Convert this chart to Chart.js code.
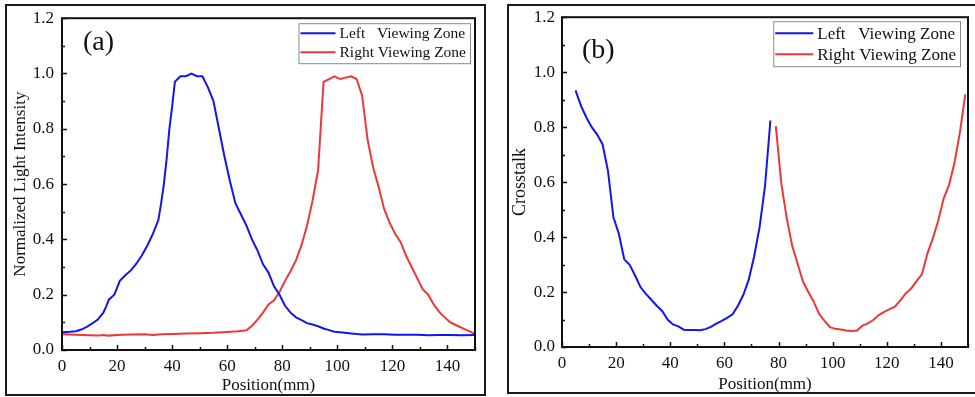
<!DOCTYPE html>
<html>
<head>
<meta charset="utf-8">
<script src="https://cdn.jsdelivr.net/npm/chart.js@4.4.1/dist/chart.umd.min.js"></script>
<style>
  html, body { margin: 0; padding: 0; background: #fff; }
  body { width: 975px; height: 397px; position: relative; overflow: hidden; }
  canvas { position: absolute; top: 0; }
  .frame { position: absolute; box-sizing: border-box; border: 2px solid #1a1a1a; pointer-events: none; }
</style>
</head>
<body>
<canvas id="chartA" width="490" height="397" style="left:0"></canvas>
<canvas id="chartB" width="485" height="397" style="left:490px"></canvas>
<div class="frame" style="left:5px;top:4px;width:481px;height:392px"></div>
<div class="frame" style="left:507px;top:4px;width:473px;height:390px"></div>
<script>
// (a) normalized light intensity
const posLeftA = [0, 3, 5, 7, 9, 11, 13, 15, 16, 17, 19, 21, 23, 25, 27, 29, 31, 33, 35, 36, 37, 38, 39, 40, 41, 43, 45, 47, 49, 51, 53, 55, 57, 59, 61, 63, 65, 67, 69, 71, 73, 75, 77, 79, 81, 83, 85, 87, 89, 91, 93, 95, 97, 99, 101, 105, 109, 113, 117, 121, 125, 129, 133, 137, 141, 145, 150];
const leftA = [0.064, 0.066, 0.068, 0.074, 0.084, 0.096, 0.11, 0.135, 0.156, 0.182, 0.2, 0.25, 0.27, 0.288, 0.312, 0.342, 0.378, 0.42, 0.47, 0.53, 0.6, 0.69, 0.8, 0.88, 0.97, 0.99, 0.99, 1.0, 0.99, 0.99, 0.95, 0.9, 0.8, 0.7, 0.61, 0.53, 0.49, 0.45, 0.4, 0.36, 0.31, 0.28, 0.23, 0.2, 0.16, 0.135, 0.118, 0.108, 0.097, 0.092, 0.086, 0.078, 0.072, 0.066, 0.064, 0.06, 0.056, 0.057, 0.057, 0.055, 0.055, 0.055, 0.053, 0.054, 0.054, 0.053, 0.054];
const posRightA = [0, 5, 10, 13, 15, 17, 20, 25, 30, 33, 36, 40, 45, 50, 55, 60, 64, 67, 69, 71, 73, 75, 77, 79, 81, 83, 85, 87, 89, 91, 93, 95, 97, 99, 101, 103, 105, 107, 109, 111, 113, 115, 117, 119, 121, 123, 125, 127, 129, 131, 133, 135, 137, 139, 141, 144, 147, 150];
const rightA = [0.057, 0.055, 0.053, 0.052, 0.054, 0.052, 0.054, 0.056, 0.057, 0.054, 0.057, 0.058, 0.06, 0.061, 0.062, 0.065, 0.068, 0.071, 0.088, 0.11, 0.135, 0.165, 0.18, 0.21, 0.25, 0.285, 0.325, 0.38, 0.45, 0.54, 0.65, 0.97, 0.98, 0.99, 0.98, 0.985, 0.99, 0.98, 0.92, 0.76, 0.66, 0.59, 0.51, 0.46, 0.42, 0.39, 0.34, 0.3, 0.26, 0.22, 0.2, 0.165, 0.138, 0.118, 0.1, 0.086, 0.072, 0.058];

// (b) crosstalk
const posLeftB = [5, 7, 9, 11, 13, 15, 17, 19, 21, 23, 25, 27, 29, 31, 33, 35, 37, 39, 41, 43, 45, 47, 49, 51, 53, 55, 57, 59, 61, 63, 65, 67, 69, 71, 73, 75, 77];
const leftB = [0.934, 0.878, 0.835, 0.8, 0.773, 0.737, 0.64, 0.472, 0.412, 0.319, 0.299, 0.26, 0.218, 0.193, 0.172, 0.15, 0.131, 0.1, 0.082, 0.075, 0.063, 0.062, 0.062, 0.061, 0.065, 0.073, 0.085, 0.095, 0.106, 0.119, 0.15, 0.19, 0.245, 0.33, 0.436, 0.585, 0.824];
const posRightB = [79, 81, 83, 85, 87, 89, 91, 93, 95, 97, 99, 101, 103, 105, 107, 109, 111, 113, 115, 117, 119, 121, 123, 125, 127, 129, 131, 133, 135, 137, 139, 141, 143, 145, 147, 149];
const rightB = [0.804, 0.597, 0.47, 0.37, 0.305, 0.239, 0.2, 0.165, 0.12, 0.095, 0.072, 0.066, 0.064, 0.06, 0.058, 0.06, 0.078, 0.086, 0.098, 0.116, 0.128, 0.138, 0.147, 0.17, 0.195, 0.213, 0.24, 0.265, 0.34, 0.395, 0.46, 0.54, 0.59, 0.67, 0.78, 0.919];

const seriesNames = ["Left   Viewing Zone", "Right Viewing Zone"];
const seriesColors = ["rgb(20, 20, 240)", "rgb(238, 55, 55)"];
const xTicks = [0, 20, 40, 60, 80, 100, 120, 140];

const serif = "'Liberation Serif', 'Times New Roman', serif";
const toPoints = (xs, ys) => xs.map((v, i) => ({ x: v, y: ys[i] }));

// plot box, inward ticks, panel tag and boxed legend
const decor = {
    id: "decor",
    afterDraw(chart, args, opts) {
        const { ctx, chartArea: a, scales } = chart;
        const x = scales.x, y = scales.y;
        ctx.save();
        ctx.strokeStyle = "#111";
        ctx.lineWidth = 1.5;
        ctx.beginPath();
        for (let v = 0; v <= 150; v += 10) {
            const px = Math.round(x.getPixelForValue(v)) + 0.5;
            const len = v % 20 === 0 ? 5 : 3;
            ctx.moveTo(px, a.bottom);
            ctx.lineTo(px, a.bottom - len);
        }
        for (let k = 0; k <= 12; k++) {
            const py = Math.round(y.getPixelForValue(k / 10)) + 0.5;
            const len = k % 2 === 0 ? 5 : 3;
            ctx.moveTo(a.left, py);
            ctx.lineTo(a.left + len, py);
        }
        ctx.stroke();
        ctx.lineWidth = 2;
        ctx.strokeRect(a.left, a.top, a.right - a.left, a.bottom - a.top);

        // panel tag
        ctx.fillStyle = "#111";
        ctx.font = "28px " + serif;
        ctx.textBaseline = "middle";
        ctx.textAlign = "left";
        ctx.fillText(opts.tag, a.left + opts.tagDx, a.top + opts.tagDy);

        // legend
        ctx.font = opts.legendFont + "px " + serif;
        const lineLen = opts.lineLen;
        const textW = Math.max(...chart.data.datasets.map(d => ctx.measureText(d.label).width));
        const w = 2 + lineLen + 4 + textW + 4;
        const h = opts.legendH;
        const bx = a.right - opts.legendDx - w;
        const by = a.top + opts.legendDy;
        ctx.fillStyle = "#fff";
        ctx.fillRect(bx, by, w, h);
        ctx.strokeStyle = "#8a8a8a";
        ctx.lineWidth = 1;
        ctx.strokeRect(bx + 0.5, by + 0.5, w, h);
        chart.data.datasets.forEach((d, i) => {
            const ly = by + opts.rowY[i];
            ctx.strokeStyle = d.borderColor;
            ctx.lineWidth = 2;
            ctx.beginPath();
            ctx.moveTo(bx + 2, ly);
            ctx.lineTo(bx + 2 + lineLen, ly);
            ctx.stroke();
            ctx.fillStyle = "#111";
            ctx.fillText(d.label, bx + 2 + lineLen + 4, ly + 1);
        });
        ctx.restore();
    }
};

const makeChart = (id, cfg) => {
    const datasets = cfg.series.map((s, i) => ({
        label: seriesNames[i],
        data: toPoints(s[0], s[1]),
        borderColor: seriesColors[i],
        backgroundColor: seriesColors[i],
        borderWidth: 2,
        pointRadius: 0,
        tension: 0,
        fill: false,
    }));
    return new Chart(document.getElementById(id), {
        type: "line",
        data: { datasets: datasets },
        plugins: [decor],
        options: {
            responsive: false,
            animation: false,
            layout: { padding: cfg.padding },
            plugins: {
                legend: { display: false },
                tooltip: { enabled: false },
                decor: cfg.decor,
            },
            scales: {
                x: {
                    type: "linear",
                    min: 0,
                    max: 150,
                    afterBuildTicks: (scale) => {
                        scale.ticks = xTicks.map(v => ({ value: v }));
                    },
                    afterFit: (scale) => { scale.height = cfg.xHeight; },
                    grid: { display: false, drawTicks: false },
                    border: { display: false },
                    ticks: { color: "#111", padding: cfg.xTickPad, font: { family: serif, size: 17 } },
                    title: {
                        display: true,
                        text: "Position(mm)",
                        color: "#111",
                        font: { family: serif, size: 17 },
                        padding: { top: 0, bottom: cfg.xTitlePad },
                    },
                },
                y: {
                    min: 0,
                    max: 1.2,
                    ticks: {
                        stepSize: 0.2,
                        color: "#111",
                        padding: cfg.yTickPad,
                        font: { family: serif, size: 17 },
                        callback: (v) => Number(v).toFixed(1),
                    },
                    afterFit: (scale) => { scale.width = cfg.yWidth; },
                    grid: { display: false, drawTicks: false },
                    border: { display: false },
                    title: {
                        display: true,
                        text: cfg.yTitle,
                        color: "#111",
                        font: { family: serif, size: cfg.yTitleSize },
                        padding: { top: cfg.yTitlePad, bottom: 0 },
                    },
                },
            },
        },
    });
};

makeChart("chartA", {
    series: [[posLeftA, leftA], [posRightA, rightA]],
    padding: { top: 16, right: 15, left: 0, bottom: 0 },
    xHeight: 47,
    yWidth: 62,
    xTickPad: 6,
    xTitlePad: 1,
    yTickPad: 8,
    yTitle: "Normalized Light Intensity",
    yTitleSize: 17,
    yTitlePad: 10,
    decor: { tag: "(a)", tagDx: 21, tagDy: 24, legendFont: 15.5, lineLen: 35, legendH: 40, legendDx: 5, legendDy: 5, rowY: [10, 29] },
});

makeChart("chartB", {
    series: [[posLeftB, leftB], [posRightB, rightB]],
    padding: { top: 13, right: 7, left: 0, bottom: 0 },
    xHeight: 50,
    yWidth: 72,
    xTickPad: 6,
    xTitlePad: 2,
    yTickPad: 7,
    yTitle: "Crosstalk",
    yTitleSize: 18,
    yTitlePad: 19,
    decor: { tag: "(b)", tagDx: 20, tagDy: 33, legendFont: 17, lineLen: 38, legendH: 45, legendDx: 8, legendDy: 4, rowY: [12, 33] },
});
</script>
</body>
</html>
